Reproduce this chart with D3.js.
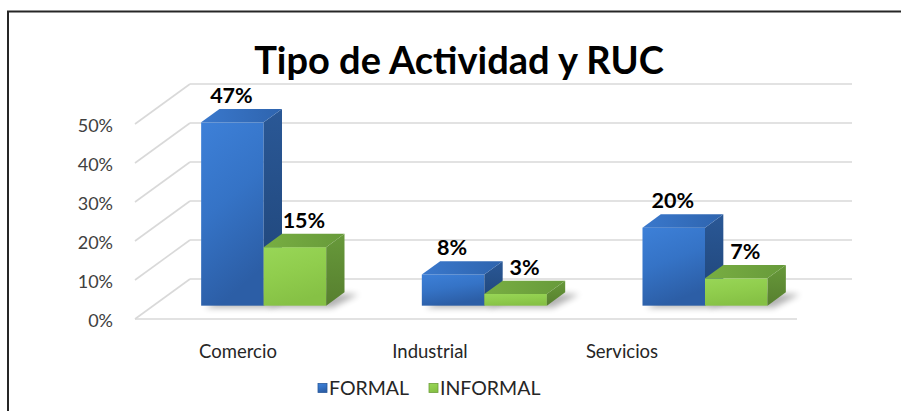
<!DOCTYPE html>
<html><head><meta charset="utf-8">
<script src="https://cdn.jsdelivr.net/npm/d3@7"></script>
<style>html,body{margin:0;padding:0;background:#fff;}svg{display:block;}</style>
</head><body>
<svg id="c" width="901" height="411"></svg>
<script>
const title = "Tipo de Actividad y RUC";
const categories = ["Comercio", "Industrial", "Servicios"];
const series = ["FORMAL", "INFORMAL"];
const formalValues = [0.47, 0.08, 0.20];
const informalValues = [0.15, 0.03, 0.07];
const yTicks = [0, 0.1, 0.2, 0.3, 0.4, 0.5];

const values = {FORMAL: formalValues, INFORMAL: informalValues};
const FONT = "Lato, 'Noto Sans', sans-serif";
const svg = d3.select("#c");

// frame (top + left border)
svg.append("path").attr("d", "M8,901 L8,11.5 L901,11.5")
  .attr("fill", "none").attr("stroke", "#262626").attr("stroke-width", 2);

// scales
const y = d3.scaleLinear().domain([0, 0.5]).range([319, 124]);
const x0 = d3.scaleBand().domain(categories).range([135, 797]);
const x1 = d3.scaleBand().domain(series).range([0, x0.bandwidth()]).paddingInner(0).paddingOuter(0.765);
const xLab = d3.scalePoint().domain(categories).range([238, 622]);
const D = {x: 55, y: -40};          // full depth of the floor
const F = {x: D.x / 3, y: D.y / 3}; // bar front plane offset
const B = {x: D.x / 3, y: D.y / 3}; // bar depth

// defs
const defs = svg.append("defs");
function lg(id, stops, x2, y2) {
  const g = defs.append("linearGradient").attr("id", id)
    .attr("x1", 0).attr("y1", 0).attr("x2", x2).attr("y2", y2);
  stops.forEach(s => g.append("stop").attr("offset", s[0]).attr("stop-color", s[1]));
}
lg("bF", [[0, "#3d80d8"], [0.5, "#3573c6"], [1, "#2c5ea6"]], 0.3, 1);
lg("bS", [[0, "#2a5896"], [1, "#1f4477"]], 0, 1);
lg("bT", [[0, "#3a78cc"], [1, "#2e64ae"]], 1, 0);
lg("gF", [[0, "#98d657"], [0.5, "#90cd4d"], [1, "#86c145"]], 0.3, 1);
lg("gS", [[0, "#67993a"], [1, "#577f2f"]], 0, 1);
lg("gT", [[0, "#78ae42"], [1, "#679a3a"]], 1, 0);
const fl = defs.append("filter").attr("id", "blur").attr("x", "-50%").attr("y", "-50%").attr("width", "200%").attr("height", "200%");
fl.append("feGaussianBlur").attr("stdDeviation", 3);

// grid
const grid = svg.append("g").attr("stroke", "#d9d9d9").attr("stroke-width", 1.6).attr("fill", "none");
yTicks.forEach(t => {
  const yy = y(t);
  grid.append("line").attr("x1", 135).attr("y1", yy).attr("x2", 135 + D.x).attr("y2", yy + D.y);
  grid.append("line").attr("x1", 135 + D.x).attr("y1", yy + D.y).attr("x2", 797 + D.x).attr("y2", yy + D.y);
});
grid.append("line").attr("x1", 135).attr("y1", y(0)).attr("x2", 797).attr("y2", y(0));

// y axis labels
const yAxis = d3.axisLeft(y).tickValues(yTicks).tickFormat(d3.format(".0%")).tickSize(0).tickPadding(0);
const ya = svg.append("g").attr("transform", "translate(113,2)").call(yAxis);
ya.select(".domain").remove();
ya.selectAll("text").attr("font-family", FONT).attr("font-size", 18).attr("fill", "#404040");

// bars
const colors = {FORMAL: ["bF", "bS", "bT"], INFORMAL: ["gF", "gS", "gT"]};
const labelDx = {FORMAL: -1, INFORMAL: 9};
const barsG = svg.append("g");
const shadowG = barsG.append("g");
categories.forEach((cat, i) => {
  series.forEach(s => {
    const v = values[s][i];
    const xl = x0(cat) + x1(s) + F.x, xr = xl + x1.bandwidth();
    const yt = y(v) + F.y, yb = y(0) + F.y;
    // soft shadow on floor
    shadowG.append("polygon")
      .attr("points", [[xl + 4, yb + 2], [xr + 6, yb + 2], [xr + B.x + 14, yb + B.y + 2], [xl + B.x + 8, yb + B.y]].join(" "))
      .attr("fill", "#000").attr("opacity", 0.3).attr("filter", "url(#blur)");
    const c = colors[s];
    const g = barsG.append("g");
    g.append("rect").attr("x", xl).attr("y", yt).attr("width", xr - xl).attr("height", yb - yt)
      .attr("fill", `url(#${c[0]})`);
    g.append("polygon").attr("points", [[xr, yt], [xr + B.x, yt + B.y], [xr + B.x, yb + B.y], [xr, yb]].join(" "))
      .attr("fill", `url(#${c[1]})`);
    g.append("polygon").attr("points", [[xl, yt], [xr, yt], [xr + B.x, yt + B.y], [xl + B.x, yt + B.y]].join(" "))
      .attr("fill", `url(#${c[2]})`);
    svg.append("text").attr("x", (xl + xr) / 2 + labelDx[s]).attr("y", yt + B.y - 6)
      .attr("text-anchor", "middle").attr("font-family", FONT).attr("font-weight", "bold")
      .attr("font-size", 21.5).attr("fill", "#000").text(d3.format(".0%")(v));
  });
});

// category labels
svg.append("g").selectAll("text").data(categories).join("text")
  .attr("x", d => xLab(d)).attr("y", 358).attr("text-anchor", "middle")
  .attr("font-family", FONT).attr("font-size", 18.5).attr("fill", "#262626").text(d => d);

// legend
const legendX = [318, 429];
const lgG = svg.append("g");
series.forEach((s, i) => {
  lgG.append("rect").attr("x", legendX[i]).attr("y", 383.5).attr("width", 9).attr("height", 9)
    .attr("fill", `url(#${colors[s][0]})`).attr("stroke", s === "FORMAL" ? "#2a5a9c" : "#6e9e3a").attr("stroke-width", 0.8);
  lgG.append("text").attr("x", legendX[i] + 11).attr("y", 394.5)
    .attr("font-family", FONT).attr("font-size", 19.5).attr("fill", "#262626").text(s);
});

// title
svg.append("text").attr("x", 459).attr("y", 74).attr("text-anchor", "middle")
  .attr("font-family", FONT).attr("font-weight", "bold").attr("font-size", 38).attr("fill", "#000").text(title);
</script>
</body></html>
